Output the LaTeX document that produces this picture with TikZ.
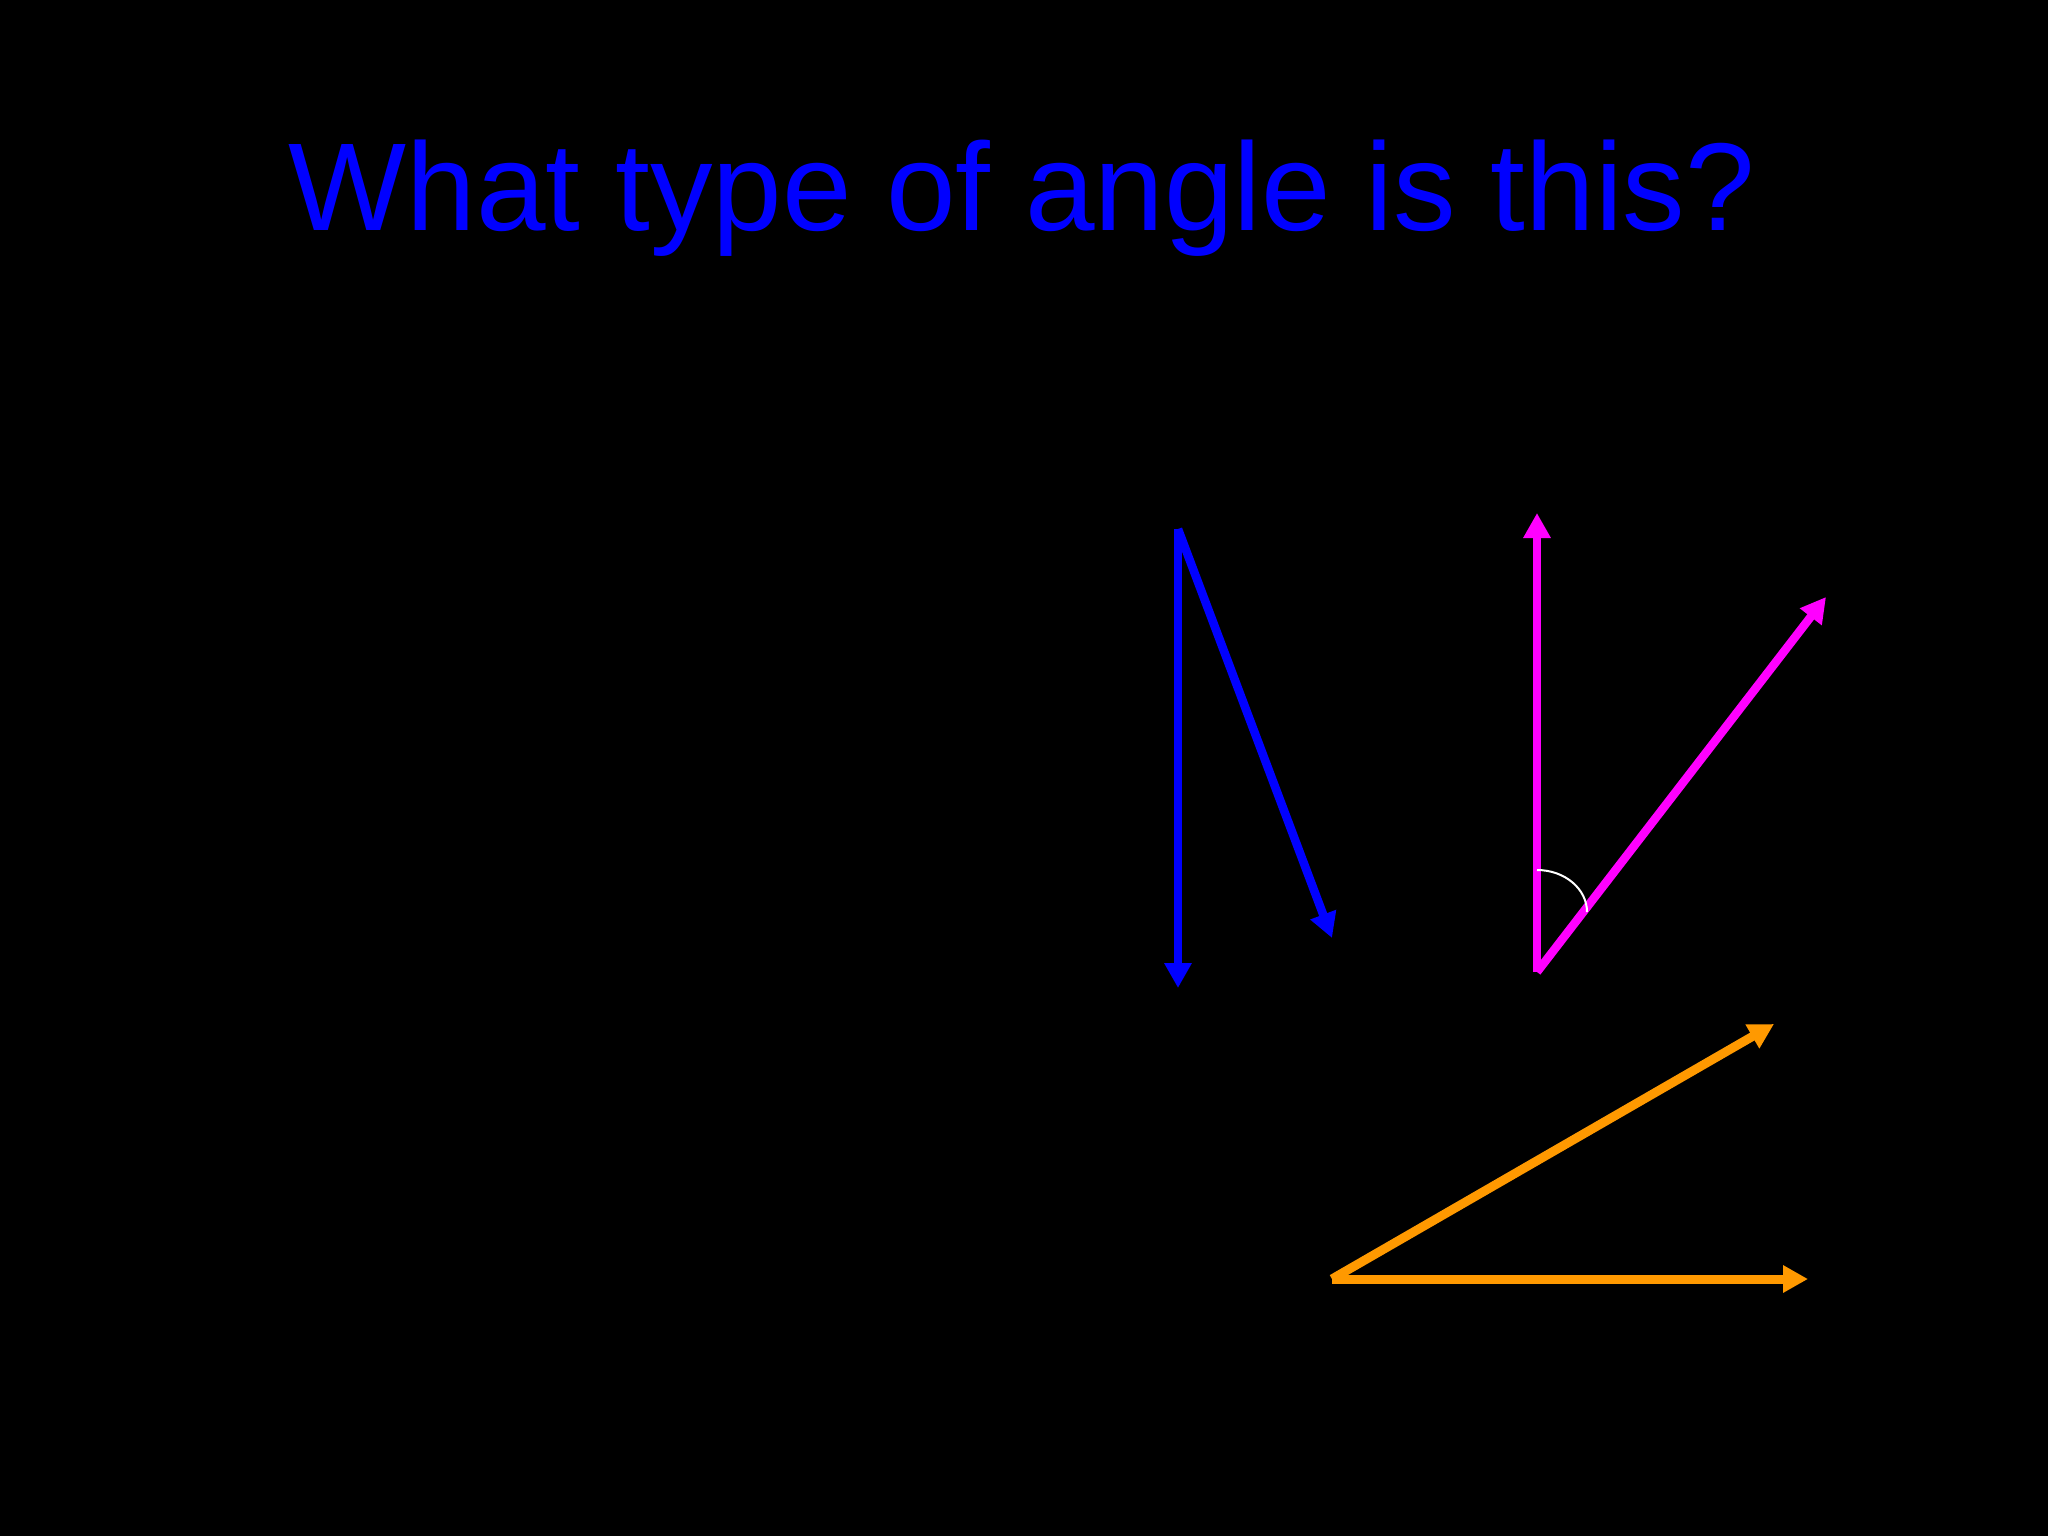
\documentclass[tikz,border=0pt]{standalone}
\usepackage{fontspec}
\setmainfont{Liberation Sans}
\usetikzlibrary{arrows.meta}
\definecolor{tblue}{RGB}{0,0,255}
\definecolor{tmag}{RGB}{255,0,255}
\definecolor{torange}{RGB}{255,153,0}
\tikzset{
  ray/.style={line width=8.5pt, -{Triangle[length=25pt,width=26pt]}},
  titletext/.style={text=tblue, font=\fontsize{125}{150}\selectfont, inner sep=0pt, anchor=base}
}
\begin{document}
\begin{tikzpicture}[x=1pt,y=-1pt]
\useasboundingbox (0,0) rectangle (2048,1536);
\fill[black] (0,0) rectangle (2048,1536);
\node[titletext] (title) at (1022,230) {What type of angle is this?};
% blue angle
\coordinate (bA) at (1178,529);
\coordinate (bV) at (1178,988);
\coordinate (bD) at (1332,938);
\draw[ray, tblue] (bA) -- (bV);
\draw[ray, tblue] (bA) -- (bD);
% magenta angle
\coordinate (mA) at (1537,972);
\coordinate (mV) at (1537,513);
\coordinate (mD) at (1826,597);
\draw[ray, tmag] (mA) -- (mV);
\draw[ray, tmag] (mA) -- (mD);
\coordinate (arcS) at (1537,870);
\draw[white, line width=2pt] (arcS) arc[start angle=-90, end angle=0, x radius=50, y radius=42];
% orange angle
\coordinate (oA) at (1332,1279);
\coordinate (oH) at (1808,1279);
\coordinate (oD) at (1774,1024);
\draw[ray, torange, line width=9pt] (oA) -- (oH);
\draw[ray, torange, line width=9pt] (oA) -- (oD);
\end{tikzpicture}
\end{document}
